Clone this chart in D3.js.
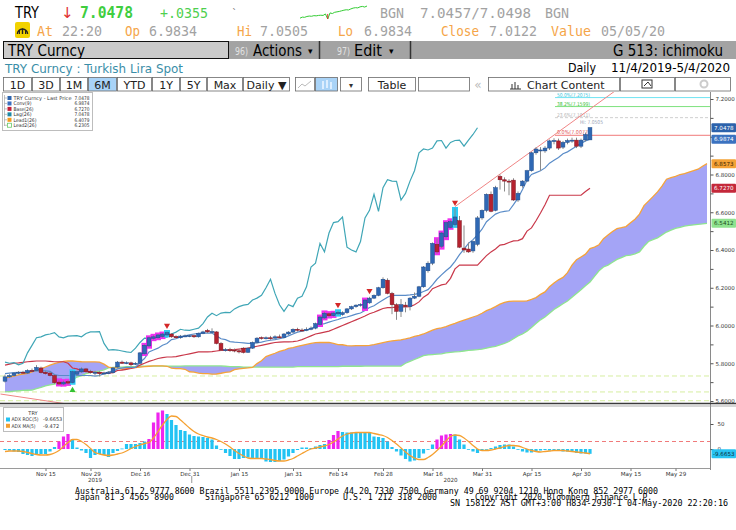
<!DOCTYPE html>
<html><head><meta charset="utf-8">
<script src="https://cdn.jsdelivr.net/npm/d3@7/dist/d3.min.js"></script>
<style>html,body{margin:0;padding:0;background:#fff;overflow:hidden}svg{display:block}</style>
</head><body>
<svg id="chart" width="736" height="530"></svg>
<script>
// ================= DATA =================
const startDate = "2019-11-04";           // first trading day shown
const openV = [5.705,5.728,5.735,5.748,5.752,5.748,5.762,5.762,5.775,5.752,
 5.748,5.735,5.700,5.690,5.702,5.698,5.742,5.754,5.770,5.757,
 5.752,5.750,5.745,5.748,5.750,5.780,5.806,5.800,5.802,5.795,
 5.800,5.850,5.892,5.932,5.935,5.942,5.950,5.955,5.942,5.935,
 5.944,5.945,5.946,5.940,5.958,5.974,5.966,5.966,5.905,5.870,
 5.872,5.870,5.866,5.880,5.858,5.880,5.910,5.936,5.932,5.935,
 5.933,5.940,5.936,5.955,5.965,5.980,5.976,5.975,5.980,5.986,
 6.005,6.040,6.062,6.052,6.062,6.058,6.068,6.088,6.100,6.108,
 6.092,6.120,6.145,6.160,6.200,6.240,6.170,6.110,6.075,6.108,
 6.100,6.145,6.155,6.205,6.290,6.330,6.430,6.420,6.470,6.520,
 6.535,6.555,6.410,6.405,6.395,6.430,6.570,6.610,6.695,6.610,
 6.790,6.772,6.765,6.770,6.665,6.740,6.765,6.820,6.915,6.930,
 6.925,6.940,6.978,6.978,6.945,6.970,6.980,6.982,6.950,6.983,
 6.9834];
const highV = [5.740,5.742,5.752,5.758,5.760,5.768,5.772,5.790,5.782,5.760,
 5.755,5.740,5.712,5.708,5.710,5.760,5.762,5.778,5.775,5.765,
 5.760,5.758,5.755,5.758,5.780,5.812,5.814,5.810,5.808,5.806,
 5.860,5.900,5.940,5.948,5.955,5.960,5.968,5.958,5.948,5.950,
 5.952,5.950,5.952,5.962,5.972,5.982,5.985,5.970,5.912,5.880,
 5.882,5.878,5.872,5.885,5.885,5.915,5.938,5.942,5.942,5.945,
 5.948,5.952,5.960,5.970,5.985,5.988,5.985,5.990,5.995,6.015,
 6.050,6.072,6.068,6.070,6.078,6.075,6.092,6.105,6.112,6.118,
 6.140,6.152,6.165,6.205,6.255,6.250,6.178,6.118,6.140,6.125,
 6.150,6.175,6.210,6.315,6.340,6.440,6.460,6.495,6.550,6.560,
 6.620,6.580,6.530,6.440,6.450,6.580,6.615,6.700,6.710,6.740,
 6.800,6.785,6.775,6.780,6.710,6.770,6.825,6.920,6.945,6.945,
 6.950,6.985,6.992,6.990,6.978,6.990,6.995,6.995,6.990,7.022,
 7.0505];
const lowV = [5.698,5.722,5.730,5.742,5.745,5.744,5.755,5.758,5.745,5.740,
 5.730,5.690,5.685,5.684,5.688,5.694,5.735,5.750,5.752,5.745,
 5.735,5.730,5.740,5.742,5.746,5.776,5.796,5.795,5.785,5.790,
 5.796,5.846,5.885,5.925,5.930,5.936,5.945,5.935,5.930,5.930,
 5.938,5.938,5.934,5.936,5.954,5.960,5.958,5.900,5.865,5.862,
 5.860,5.858,5.852,5.852,5.855,5.876,5.905,5.925,5.926,5.924,
 5.930,5.932,5.932,5.950,5.960,5.968,5.968,5.970,5.975,5.980,
 6.000,6.035,6.045,6.048,6.055,6.052,6.062,6.082,6.094,6.100,
 6.085,6.115,6.140,6.155,6.195,6.165,6.060,6.030,6.045,6.070,
 6.080,6.140,6.150,6.200,6.280,6.320,6.380,6.410,6.460,6.515,
 6.525,6.410,6.385,6.385,6.385,6.420,6.560,6.600,6.600,6.605,
 6.720,6.710,6.690,6.660,6.655,6.730,6.760,6.815,6.905,6.820,
 6.915,6.930,6.960,6.930,6.935,6.960,6.968,6.940,6.940,6.975,
 6.9834];
const closeV = [5.728,5.735,5.748,5.752,5.750,5.762,5.760,5.778,5.750,5.745,
 5.735,5.697,5.690,5.700,5.695,5.755,5.755,5.770,5.756,5.750,
 5.752,5.745,5.748,5.750,5.775,5.806,5.800,5.803,5.792,5.800,
 5.855,5.895,5.935,5.940,5.950,5.955,5.962,5.940,5.935,5.944,
 5.945,5.946,5.940,5.958,5.966,5.966,5.968,5.905,5.870,5.872,
 5.870,5.865,5.860,5.857,5.880,5.910,5.933,5.932,5.935,5.933,
 5.940,5.938,5.955,5.965,5.980,5.975,5.974,5.980,5.986,6.010,
 6.045,6.065,6.052,6.066,6.070,6.068,6.088,6.100,6.108,6.112,
 6.135,6.145,6.160,6.200,6.245,6.170,6.110,6.075,6.110,6.100,
 6.145,6.155,6.205,6.310,6.330,6.435,6.390,6.490,6.545,6.550,
 6.575,6.415,6.400,6.390,6.445,6.570,6.610,6.695,6.605,6.730,
 6.772,6.765,6.764,6.665,6.700,6.765,6.820,6.915,6.935,6.930,
 6.940,6.978,6.980,6.940,6.970,6.980,6.982,6.950,6.982,7.012,
 7.0478];
const convV = [5.745,5.748,5.750,5.752,5.752,5.755,5.758,5.760,5.760,5.760,
 5.757,5.740,5.735,5.735,5.735,5.735,5.735,5.735,5.735,5.735,
 5.732,5.735,5.745,5.755,5.757,5.770,5.775,5.778,5.778,5.778,
 5.805,5.825,5.860,5.870,5.880,5.895,5.905,5.925,5.930,5.940,
 5.945,5.950,5.955,5.958,5.960,5.960,5.960,5.945,5.930,5.925,
 5.915,5.912,5.910,5.908,5.905,5.905,5.908,5.912,5.918,5.922,
 5.925,5.930,5.935,5.945,5.955,5.965,5.970,5.975,5.985,5.995,
 6.005,6.010,6.018,6.025,6.032,6.040,6.045,6.052,6.060,6.066,
 6.080,6.095,6.105,6.120,6.135,6.150,6.160,6.160,6.160,6.160,
 6.162,6.165,6.170,6.180,6.190,6.215,6.245,6.268,6.290,6.310,
 6.340,6.375,6.405,6.435,6.455,6.480,6.510,6.550,6.570,6.590,
 6.600,6.605,6.608,6.640,6.675,6.720,6.770,6.800,6.810,6.820,
 6.835,6.860,6.875,6.890,6.910,6.920,6.935,6.950,6.965,6.978,
 6.9874];
const baseV = [5.790,5.795,5.800,5.802,5.805,5.808,5.810,5.812,5.812,5.812,
 5.810,5.808,5.808,5.808,5.800,5.775,5.770,5.760,5.755,5.754,
 5.752,5.750,5.748,5.748,5.750,5.762,5.764,5.768,5.772,5.778,
 5.790,5.800,5.810,5.817,5.825,5.830,5.833,5.833,5.835,5.840,
 5.845,5.850,5.855,5.860,5.860,5.860,5.862,5.865,5.868,5.870,
 5.870,5.872,5.875,5.878,5.880,5.885,5.890,5.895,5.900,5.905,
 5.910,5.912,5.913,5.913,5.915,5.918,5.925,5.935,5.945,5.955,
 5.960,5.965,5.970,5.980,5.990,6.000,6.010,6.020,6.030,6.040,
 6.050,6.062,6.070,6.080,6.090,6.095,6.095,6.098,6.098,6.098,
 6.100,6.110,6.125,6.150,6.165,6.195,6.205,6.215,6.220,6.250,
 6.300,6.320,6.320,6.320,6.320,6.320,6.345,6.370,6.390,6.405,
 6.426,6.430,6.440,6.448,6.450,6.460,6.500,6.517,6.555,6.596,
 6.640,6.690,6.690,6.690,6.690,6.690,6.690,6.690,6.690,6.710,
 6.7270];
// leading spans run 26 sessions beyond the last bar
const lead1V = [5.722,5.726,5.732,5.738,5.742,5.746,5.754,5.762,5.770,5.780,
 5.790,5.798,5.805,5.810,5.812,5.812,5.810,5.808,5.807,5.807,
 5.807,5.806,5.795,5.780,5.776,5.775,5.768,5.772,5.775,5.777,
 5.779,5.782,5.784,5.786,5.786,5.786,5.784,5.774,5.772,5.772,
 5.768,5.755,5.753,5.748,5.745,5.745,5.742,5.743,5.747,5.752,
 5.754,5.766,5.770,5.773,5.775,5.778,5.798,5.813,5.835,5.844,
 5.853,5.863,5.869,5.879,5.883,5.890,5.895,5.900,5.905,5.909,
 5.910,5.910,5.911,5.905,5.899,5.898,5.893,5.892,5.893,5.893,
 5.893,5.895,5.899,5.904,5.909,5.914,5.918,5.921,5.924,5.929,
 5.935,5.942,5.948,5.955,5.965,5.975,5.983,5.988,5.994,6.003,
 6.011,6.020,6.028,6.036,6.045,6.053,6.065,6.079,6.088,6.100,
 6.113,6.123,6.128,6.129,6.129,6.129,6.131,6.138,6.148,6.165,
 6.178,6.205,6.225,6.242,6.255,6.280,6.320,6.348,6.363,6.378,
 6.4079,6.415,6.428,6.460,6.480,6.498,6.513,6.518,6.524,6.544,
 6.563,6.590,6.635,6.659,6.683,6.708,6.738,6.775,6.783,6.790,
 6.800,6.805,6.813,6.820,6.828,6.844,6.8573];
const lead2V = [5.648,5.650,5.652,5.654,5.656,5.657,5.658,5.665,5.672,5.680,
 5.685,5.690,5.694,5.698,5.700,5.712,5.727,5.735,5.745,5.750,
 5.754,5.758,5.765,5.775,5.778,5.780,5.780,5.782,5.782,5.782,
 5.785,5.785,5.785,5.785,5.785,5.785,5.785,5.785,5.785,5.785,
 5.786,5.786,5.786,5.786,5.786,5.786,5.786,5.786,5.786,5.784,
 5.782,5.782,5.782,5.780,5.780,5.780,5.780,5.780,5.780,5.780,
 5.780,5.780,5.780,5.780,5.780,5.782,5.782,5.782,5.782,5.782,
 5.782,5.782,5.782,5.782,5.782,5.784,5.784,5.784,5.784,5.784,
 5.785,5.785,5.785,5.785,5.785,5.785,5.785,5.785,5.785,5.800,
 5.810,5.820,5.830,5.840,5.844,5.846,5.848,5.850,5.855,5.858,
 5.860,5.862,5.865,5.868,5.870,5.872,5.875,5.880,5.885,5.890,
 5.897,5.905,5.915,5.930,5.945,5.955,5.970,5.990,6.010,6.030,
 6.045,6.065,6.085,6.100,6.115,6.130,6.150,6.170,6.190,6.210,
 6.2305,6.260,6.290,6.310,6.320,6.335,6.350,6.360,6.370,6.373,
 6.380,6.390,6.420,6.445,6.455,6.464,6.480,6.495,6.505,6.515,
 6.520,6.527,6.530,6.533,6.536,6.538,6.5412];
const rocV = [-2,-3,-5,-6,-10,-12,-14,-12,-10,-10,
 -5,4,15,25,30,20,3,-3,-8,-18,
 -12,-10,-12,-16,-8,-4,1,10,10,10,
 12,15,20,53,73,77,70,58,48,38,
 36,29,26,25,24,22,19,7,-1,-8,
 -14,-20,-20,-18,-17,-18,-18,-20,-25,-26,
 -26,-24,-21,-15,-8,-2,3,3,2,5,
 8,10,18,28,36,34,33,33,33,33,
 33,32,25,24,22,15,4,-5,-13,-20,
 -25,-23,-18,-9,0,9,19,27,29,30,
 29,19,9,0,-5,-8,-3,-1,2,5,
 8,9,9,5,0,-5,-7,-7,-5,-3,
 -2,-3,-3,-4,-5,-5,-6,-8,-9,-9,
 -9.6653];
const rocMaV = [-5,-4,-4,-4,-5,-7,-9,-11,-12,-12,
 -11,-8,-3,5,13,19,19,15,9,1,
 -7,-10,-12,-13,-12,-10,-8,-4,1,5,
 8,11,13,22,35,48,59,66,65,58,
 50,42,35,30,27,24,22,19,15,10,
 4,-3,-9,-14,-18,-19,-19,-19,-20,-21,
 -23,-24,-24,-22,-19,-14,-9,-4,0,2,
 4,6,9,14,20,26,30,32,33,33,
 33,33,31,29,27,23,17,10,2,-6,
 -13,-18,-21,-21,-17,-11,-3,6,16,25,
 28,27,22,15,7,0,-3,-3,-2,0,
 2,5,7,7,6,3,0,-3,-5,-6,
 -5,-4,-3,-3,-3,-4,-5,-6,-7,-8,
 -9.472];
const rocLevel = 15;
const setupIdx = [12,13,14,31,32,33,34,35,70,71,72,73,80,96,97,98,99]; // magenta
const perfectIdx = [15,36,74,100];                                     // cyan
const sellIdx = [36,74,81,100];
const buyIdx = [15];
const rocHiIdx = [12,13,14,32,33,34,35,72,73,74,96,97,98,99];
const lagShift = 25;   // plotted bars back
const fibPct = ["50.0%","38.2%","23.6%","0.0%"];
const fibVals = [7.2075,7.1599,7.1011,7.0077];
const lowLevels = [5.7325,5.648,5.6015];
const trendA = [[100,6.63],[136,7.25]];
const trendB = [[-1,5.637],[15,5.58]];
const periodHigh = 7.0505;
const priceTicks = [5.6,5.7,5.8,5.9,6.0,6.1,6.2,6.3,6.4,6.5,6.6,6.7,6.8,6.9,7.0,7.1,7.2];
const oscTicks = [0,50];
const dateTicks = ["2019-11-15","2019-11-29","2019-12-16","2019-12-31","2020-01-15","2020-01-31",
 "2020-02-14","2020-02-28","2020-03-16","2020-03-31","2020-04-15","2020-04-30","2020-05-15","2020-05-29"];
const yearLabels = [["2019-12-02","2019"],["2020-03-20","2020"]];
const legendNames = ["TRY Curncy - Last Price","Conv(9)","Base(26)","Lag(26)","Lead1(26)","Lead2(26)"];
const legendVals = [7.0478,6.9874,6.7270,7.0478,6.4079,6.2305];
const oscNames = ["ADX ROC(5)","ADX MA(5)"];
const oscVals = ["-9.6653","-9.472"];
const sparkVals = [6.990,6.995,6.994,6.998,7.000,6.999,7.002,7.001,7.003,7.004,7.003,7.010,6.986,7.015,
 7.012,7.018,7.020,7.022,7.025,7.028,7.030,7.029,7.034,7.038,7.040,7.039,7.044,7.046,7.043,7.048];
const toolbarLabels = ["1D","3D","1M","6M","YTD","1Y","5Y","Max","Daily \u25BC"];

// ================= HELPERS =================
const svg = d3.select("#chart");
const SANS = "DejaVu Sans", MONO = "DejaVu Sans Mono";
function T(sel, x, y, s, o = {}) {
  const t = sel.append("text").attr("x", x).attr("y", y).text(s)
    .attr("font-family", o.f || SANS).attr("font-size", o.s || 12)
    .attr("fill", o.c || "#000").attr("text-anchor", o.a || "start");
  if (o.w) t.attr("font-weight", o.w);
  if (o.L) t.attr("textLength", o.L).attr("lengthAdjust", "spacingAndGlyphs");
  return t;
}
svg.append("rect").attr("width",736).attr("height",530).attr("fill","#fff");

// ================= HEADER =================
const GRAY = "#a2a2a2", ORANGE = "#f5a548";
T(svg, 15, 18, "TRY", {s:15, L:24});
T(svg, 61, 18, "\u2193", {s:15, c:"#e03030"});
T(svg, 80, 18, "7.0478", {f:MONO, s:15, w:"bold", c:"#3fce3f", L:53});
T(svg, 160, 18, "+.0355", {f:MONO, s:14, c:"#4fcf4f", L:48});
T(svg, 232, 17, "\u02CB", {s:10, c:"#777"});
{
  const sx = d3.scaleLinear().domain([0, sparkVals.length-1]).range([300, 367]);
  const sy = d3.scaleLinear().domain(d3.extent(sparkVals)).range([19, 6]);
  svg.append("path").datum(sparkVals).attr("d", d3.line().x((d,i)=>sx(i)).y(d=>sy(d)))
    .attr("fill","none").attr("stroke","#33cc33").attr("stroke-width",1);
  svg.append("line").attr("x1",sx(12)).attr("x2",sx(12)).attr("y1",sy(sparkVals[11])).attr("y2",sy(sparkVals[12]))
    .attr("stroke","#e03030").attr("stroke-width",1);
}
T(svg, 380, 18, "BGN", {f:MONO, s:14, c:GRAY, L:24});
T(svg, 420, 18, "7.0457/7.0498", {f:MONO, s:14, c:GRAY, L:111});
T(svg, 545, 18, "BGN", {f:MONO, s:14, c:GRAY, L:24});
svg.append("rect").attr("x",15).attr("y",22).attr("width",15).attr("height",16).attr("rx",2).attr("fill","#f2d200");
svg.append("path").attr("d","M17.5,34 A5,5 0 1 1 27.5,34").attr("fill","none").attr("stroke","#222").attr("stroke-width",1.6);
svg.append("line").attr("x1",22.5).attr("y1",34).attr("x2",22.5).attr("y2",28.5).attr("stroke","#222").attr("stroke-width",1.4);
svg.append("line").attr("x1",19.5).attr("y1",34).attr("x2",19.5).attr("y2",30).attr("stroke","#222").attr("stroke-width",1);
svg.append("line").attr("x1",25.5).attr("y1",34).attr("x2",25.5).attr("y2",30).attr("stroke","#222").attr("stroke-width",1);
const r2 = [[37,"At",16,ORANGE],[62,"22:20",40,GRAY],[125,"Op",15,ORANGE],[149,"6.9834",48,GRAY],
  [237,"Hi",15,ORANGE],[260,"7.0505",48,GRAY],[338,"Lo",15,ORANGE],[364,"6.9834",48,GRAY],
  [441,"Close",38,ORANGE],[489,"7.0122",48,GRAY],[551,"Value",40,ORANGE],[601,"05/05/20",64,GRAY]];
r2.forEach(([xx,s,L,c]) => T(svg, xx, 36, s, {f:MONO, s:14, c, L}));
svg.append("rect").attr("x",229).attr("y",41).attr("width",507).attr("height",18).attr("fill","#a3a3a3");
svg.append("rect").attr("x",3.5).attr("y",41.5).attr("width",225).attr("height",17).attr("fill","#cbcbcb").attr("stroke","#111");
T(svg, 8, 56, "TRY Curncy", {s:15, L:77});
[319.5, 410.5].forEach(xx => svg.append("line").attr("x1",xx).attr("x2",xx).attr("y1",41).attr("y2",59).attr("stroke","#333").attr("stroke-width",1.5));
T(svg, 235, 55, "96)", {s:10, c:"#e2e2e2", L:13});
T(svg, 253, 56, "Actions", {s:15, L:49});
T(svg, 308, 54, "\u25BE", {s:9});
T(svg, 337, 55, "97)", {s:10, c:"#e2e2e2", L:13});
T(svg, 354, 56, "Edit", {s:15, L:28});
T(svg, 389, 54, "\u25BE", {s:9});
T(svg, 723, 56, "G 513: ichimoku", {s:15, a:"end", L:110});
T(svg, 5, 73, "TRY Curncy : Turkish Lira Spot", {s:12.5, c:"#3a8ea8", L:178});
T(svg, 568, 72, "Daily", {s:12.5, L:28});
T(svg, 611, 72, "11/4/2019-5/4/2020", {s:12.5, L:119});
{
  const bx = [3,32,60,88,117,152,180,207,243,290];
  const g = svg.append("g");
  toolbarLabels.forEach((lab, i) => {
    g.append("rect").attr("x",bx[i]+0.5).attr("y",77.5).attr("width",bx[i+1]-bx[i]-1).attr("height",13.5)
      .attr("fill", lab === "6M" ? "#a9d3f7" : "#fff").attr("stroke","#6a6a6a").attr("stroke-width",0.8);
    T(g, (bx[i]+bx[i+1])/2, 88.5, lab, {s:11, c:"#222", a:"middle"});
  });
  const box = (x0,x1,fill) => g.append("rect").attr("x",x0+0.5).attr("y",77.5).attr("width",x1-x0-1).attr("height",13.5)
      .attr("fill",fill||"#fff").attr("stroke","#6a6a6a").attr("stroke-width",0.8);
  box(295,315); box(315,338,"#a9d3f7"); box(340,362); box(368,416); box(418,470); box(488,620); box(620,675); box(675,731);
  g.append("path").attr("d","M298,88 L302,84 L305,86 L311,81").attr("fill","none").attr("stroke","#bbb");
  g.append("path").attr("d","M323,81 V89 M327,80 V88 M331,82 V89").attr("stroke","#ddeeff").attr("stroke-width",2);
  T(g, 351, 88, "\u25BE", {s:8, c:"#333", a:"middle"});
  T(g, 392, 88.5, "Table", {s:11, c:"#222", a:"middle"});
  T(g, 478, 88.5, "\u00AB", {s:12, c:"#bbb", a:"middle"});
  g.append("path").attr("d","M512,89 V84 M515,89 V82 M518,89 V85 M510,89 H521").attr("stroke","#333").attr("stroke-width",1);
  T(g, 527, 88.5, "Chart Content", {s:11, c:"#222"});
  g.append("rect").attr("x",642).attr("y",80).attr("width",10).attr("height",8).attr("fill","none").attr("stroke","#333");
  g.append("path").attr("d","M644,86 L648,82 L651,86").attr("fill","none").attr("stroke","#333");
  g.append("circle").attr("cx",704).attr("cy",84).attr("r",3.5).attr("fill","none").attr("stroke","#ccc").attr("stroke-width",2);
}

// ================= SCALES =================
const parse = d3.timeParse("%Y-%m-%d");
const dates = [];
for (let d = parse(startDate); dates.length < lead1V.length; d = d3.timeDay.offset(d, 1)) {
  if (d.getDay() !== 0 && d.getDay() !== 6) dates.push(d);
}
const dateIndex = ds => dates.findIndex(d => +d === +parse(ds));
const x = d3.scaleLinear().domain([0, lead1V.length - 1]).range([5, 707]);
const y = d3.scaleLinear().domain([5.6, 7.2]).range([401, 99]);
const yO = d3.scaleLinear().domain([-50, 50]).range([474, 424]);
const nBars = closeV.length;

// ================= PRICE PANEL =================
svg.append("clipPath").attr("id","clipP").append("rect").attr("x",0).attr("y",92).attr("width",710).attr("height",311);
const plot = svg.append("g").attr("clip-path","url(#clipP)");
const idxLead = d3.range(lead1V.length);
const idxBar = d3.range(nBars);

lowLevels.forEach(v => plot.append("line").attr("x1",0).attr("x2",710).attr("y1",y(v)).attr("y2",y(v))
  .attr("stroke","#d6eea0").attr("stroke-dasharray","5,3").attr("stroke-width",1));
plot.append("path").datum(idxLead)
  .attr("d", d3.area().x(i=>x(i)).y0(i=>y(lead2V[i])).y1(i=>y(lead1V[i])))
  .attr("fill","#a4a4f6");
plot.append("path").datum(idxLead).attr("d", d3.line().x(i=>x(i)).y(i=>y(lead2V[i])))
  .attr("fill","none").attr("stroke","#8fe58f").attr("stroke-width",1.3);
plot.append("path").datum(idxLead).attr("d", d3.line().x(i=>x(i)).y(i=>y(lead1V[i])))
  .attr("fill","none").attr("stroke","#f5a33a").attr("stroke-width",1.3);
const fibLine = ["#6fe3f2","#7ee27e","#cfcfcf","#f07878"];
const fibText = ["#3cc6dc","#3cbf3c","#b4b4b4","#e05555"];
fibVals.forEach((v,k) => {
  plot.append("line").attr("x1",555).attr("x2",710).attr("y1",y(v)).attr("y2",y(v))
    .attr("stroke",fibLine[k]).attr("stroke-width",1).attr("stroke-dasharray", k===2 ? "3,2" : null);
  T(plot, 557, y(v)-1, fibPct[k] + "(" + v.toFixed(4) + ")", {s:5.3, c:fibText[k], L:33});
});
T(plot, 580, y(periodHigh)-3, "Hi: " + periodHigh.toFixed(4), {s:5.3, c:"#99a4b6", L:23});
[trendA, trendB].forEach(t => plot.append("line")
  .attr("x1",x(t[0][0])).attr("y1",y(t[0][1])).attr("x2",x(t[1][0])).attr("y2",y(t[1][1]))
  .attr("stroke","#f08585").attr("stroke-width",1));
plot.append("path").datum(idxBar).attr("d", d3.line().x(i=>x(i)).y(i=>y(baseV[i])))
  .attr("fill","none").attr("stroke","#c9384a").attr("stroke-width",1.2);
plot.append("path").datum(idxBar).attr("d", d3.line().x(i=>x(i)).y(i=>y(convV[i])))
  .attr("fill","none").attr("stroke","#5a8cc8").attr("stroke-width",1.2);
plot.append("path").datum(d3.range(nBars - lagShift)).attr("d", d3.line().x(i=>x(i)).y(i=>y(closeV[i+lagShift])))
  .attr("fill","none").attr("stroke","#3fa6b6").attr("stroke-width",1.2);
const hbox = (arr, col) => arr.forEach(i => plot.append("rect")
  .attr("x", x(i)-3).attr("y", y(highV[i])-1.5).attr("width",6).attr("height", y(lowV[i])-y(highV[i])+3).attr("fill",col));
hbox(setupIdx, "#f02ef0");
hbox(perfectIdx, "#2ccbf6");
const candles = plot.append("g");
idxBar.forEach(i => {
  const up = closeV[i] >= openV[i];
  candles.append("line").attr("x1",x(i)).attr("x2",x(i)).attr("y1",y(highV[i])).attr("y2",y(lowV[i]))
    .attr("stroke","#8a8a8a").attr("stroke-width",1);
  const top = y(Math.max(openV[i], closeV[i])), bot = y(Math.min(openV[i], closeV[i]));
  candles.append("rect").attr("x", x(i)-1.9).attr("y", top).attr("width", 3.8).attr("height", Math.max(1, bot-top))
    .attr("fill", up ? "#2f68b4" : "#b5222f").attr("stroke", up ? "#1d4a8a" : "#7e1520").attr("stroke-width",0.5);
});
sellIdx.forEach(i => plot.append("path").attr("d", d3.symbol().type(d3.symbolTriangle).size(16)())
  .attr("transform", `translate(${x(i)},${y(highV[i])-6}) rotate(180)`).attr("fill","#d42828"));
buyIdx.forEach(i => plot.append("path").attr("d", d3.symbol().type(d3.symbolTriangle).size(16)())
  .attr("transform", `translate(${x(i)},${y(lowV[i])+7})`).attr("fill","#33c233"));

// legend (price)
{
  const g = svg.append("g");
  g.append("rect").attr("x",2.5).attr("y",92.5).attr("width",90).attr("height",38).attr("fill","#fff").attr("stroke","#bdbdbd");
  g.append("line").attr("x1",4.5).attr("x2",4.5).attr("y1",95).attr("y2",126).attr("stroke","#999").attr("stroke-width",0.6);
  const cols = ["#2c64ae","#3a6fc0","#c22038","#1e88a6","#f49a1e","#ffffff"];
  const nameL = [58,18,20,18,23,23];
  legendNames.forEach((n,k) => {
    const yy = 98 + k*5.45;
    g.append("line").attr("x1",4.5).attr("x2",7).attr("y1",yy).attr("y2",yy).attr("stroke","#999").attr("stroke-width",0.6);
    g.append("rect").attr("x",7.5).attr("y",yy-2).attr("width",4).attr("height",4).attr("fill",cols[k])
      .attr("stroke", k===5 ? "#67c967" : "none").attr("stroke-width",0.8);
    T(g, 13.5, yy+1.8, n, {s:5, c:"#333", L:nameL[k]});
    T(g, 89.5, yy+1.8, legendVals[k].toFixed(4), {s:5, c:"#333", a:"end", L:15});
  });
}

// ================= RIGHT AXIS =================
svg.append("line").attr("x1",710.5).attr("x2",710.5).attr("y1",92).attr("y2",470).attr("stroke","#8a8a8a");
const tags = [
  [closeV[nBars-1], "#2c62ab", "#fff"],
  [convV[nBars-1], "#3b72c0", "#fff"],
  [lead1V[lead1V.length-1], "#f4a236", "#3a2200"],
  [baseV[nBars-1], "#c4283a", "#fff"],
  [lead2V[lead2V.length-1], "#8fe38f", "#1e4d1e"]];
{
  const near = v => tags.some(t => Math.abs(y(t[0]) - y(v)) < 8);
  const ax = svg.append("g").attr("transform","translate(710.5,0)")
    .call(d3.axisRight(y).tickValues(priceTicks).tickSize(3).tickPadding(2)
      .tickFormat((d,i) => (i % 2 === 0 && !near(d)) ? d3.format(".4f")(d) : ""));
  ax.select(".domain").remove();
  ax.selectAll("line").attr("stroke","#555");
  ax.selectAll("text").attr("font-family",SANS).attr("font-size",5.5).attr("fill","#333");
  const ao = svg.append("g").attr("transform","translate(710.5,0)")
    .call(d3.axisRight(yO).tickValues(oscTicks).tickSize(3).tickPadding(4));
  ao.select(".domain").remove();
  ao.selectAll("line").attr("stroke","#555");
  ao.selectAll("text").attr("font-family",SANS).attr("font-size",5.5).attr("fill","#333");
}
tags.forEach(([v, bg, fg]) => {
  const yy = y(v);
  svg.append("rect").attr("x",711.5).attr("y",yy-4.5).attr("width",24.5).attr("height",9).attr("rx",1).attr("fill",bg);
  T(svg, 723.8, yy+2, v.toFixed(4), {s:5.6, c:fg, a:"middle"});
});

svg.append("line").attr("x1",0).attr("x2",736).attr("y1",403.5).attr("y2",403.5).attr("stroke","#3a3a3a").attr("stroke-width",1.6);
svg.append("line").attr("x1",0).attr("x2",736).attr("y1",406).attr("y2",406).attr("stroke","#9a9a9a").attr("stroke-width",0.8);

// ================= OSCILLATOR PANEL =================
{
  const g = svg.append("g");
  g.append("line").attr("x1",0).attr("x2",710).attr("y1",yO(rocLevel)).attr("y2",yO(rocLevel))
    .attr("stroke","#f07a7a").attr("stroke-dasharray","4,3").attr("stroke-width",1);
  idxBar.forEach(i => {
    const v = rocV[i];
    g.append("rect").attr("x",x(i)-1.6).attr("width",3.2)
      .attr("y", Math.min(yO(v), yO(0))).attr("height", Math.max(0.8, Math.abs(yO(v)-yO(0))))
      .attr("fill", rocHiIdx.includes(i) ? "#ee24ee" : "#22c3f3");
  });
  g.append("path").datum(idxBar).attr("d", d3.line().curve(d3.curveMonotoneX).x(i=>x(i)).y(i=>yO(rocMaV[i])))
    .attr("fill","none").attr("stroke","#f5a030").attr("stroke-width",1.3);
  g.append("rect").attr("x",3.5).attr("y",407.5).attr("width",60).attr("height",24).attr("fill","#fff").attr("fill-opacity",0.9).attr("stroke","#bdbdbd");
  T(g, 33, 414.5, "TRY", {s:5, c:"#333", a:"middle"});
  const oc = ["#22c3f3","#f5a030"];
  const nL = [27,24];
  oscNames.forEach((n,k) => {
    const yy = 419.5 + k*6.3;
    g.append("rect").attr("x",6).attr("y",yy-2).attr("width",4).attr("height",4).attr("fill",oc[k]);
    T(g, 11.5, yy+1.8, n, {s:5, c:"#333", L:nL[k]});
    T(g, 43, yy+1.8, oscVals[k], {s:5, c:"#333"});
  });
  const yy = yO(rocV[nBars-1]);
  svg.append("rect").attr("x",711.5).attr("y",yy-4.5).attr("width",24.5).attr("height",9).attr("rx",1).attr("fill","#29c4f2");
  T(svg, 723.8, yy+2, oscVals[0], {s:5.6, c:"#0c3040", a:"middle"});
}

// ================= DATE AXIS =================
{
  svg.append("line").attr("x1",0).attr("x2",710).attr("y1",468.5).attr("y2",468.5).attr("stroke","#9a9a9a");
  const ax = svg.append("g").attr("transform","translate(0,468.5)")
    .call(d3.axisBottom(x).tickValues(dateTicks.map(dateIndex)).tickSize(2.5).tickPadding(1)
      .tickFormat(i => d3.timeFormat("%b %d")(dates[i])));
  ax.select(".domain").remove();
  ax.selectAll("line").attr("stroke","#777");
  ax.selectAll("text").attr("font-family",SANS).attr("font-size",5.6).attr("fill","#333");
  yearLabels.forEach(([ds, lab]) => T(svg, x(dateIndex(ds)), 482, lab, {s:5.6, c:"#333", a:"middle"}));
  const xb = (x(dateIndex("2019-12-31")) + x(dateIndex("2020-01-01"))) / 2;
  svg.append("line").attr("x1",xb).attr("x2",xb).attr("y1",476).attr("y2",483).attr("stroke","#999");
}

// ================= FOOTER =================
T(svg, 75, 494, "Australia 61 2 9777 8600 Brazil 5511 2395 9000 Europe 44 20 7330 7500 Germany 49 69 9204 1210 Hong Kong 852 2977 6000", {f:MONO, s:9.5, L:583});
T(svg, 75, 500, "Japan 81 3 4565 8900", {f:MONO, s:9.5, L:99});
T(svg, 205, 500, "Singapore 65 6212 1000", {f:MONO, s:9.5, L:109});
T(svg, 343, 500, "U.S. 1 212 318 2000", {f:MONO, s:9.5, L:94});
T(svg, 475, 500, "Copyright 2020 Bloomberg Finance L.P.", {f:MONO, s:9.5, L:177});
T(svg, 450, 505.5, "SN 158122 AST  GMT+3:00 H834-2930-1 04-May-2020 22:20:16", {f:MONO, s:9.5, L:278});
</script>
</body></html>
